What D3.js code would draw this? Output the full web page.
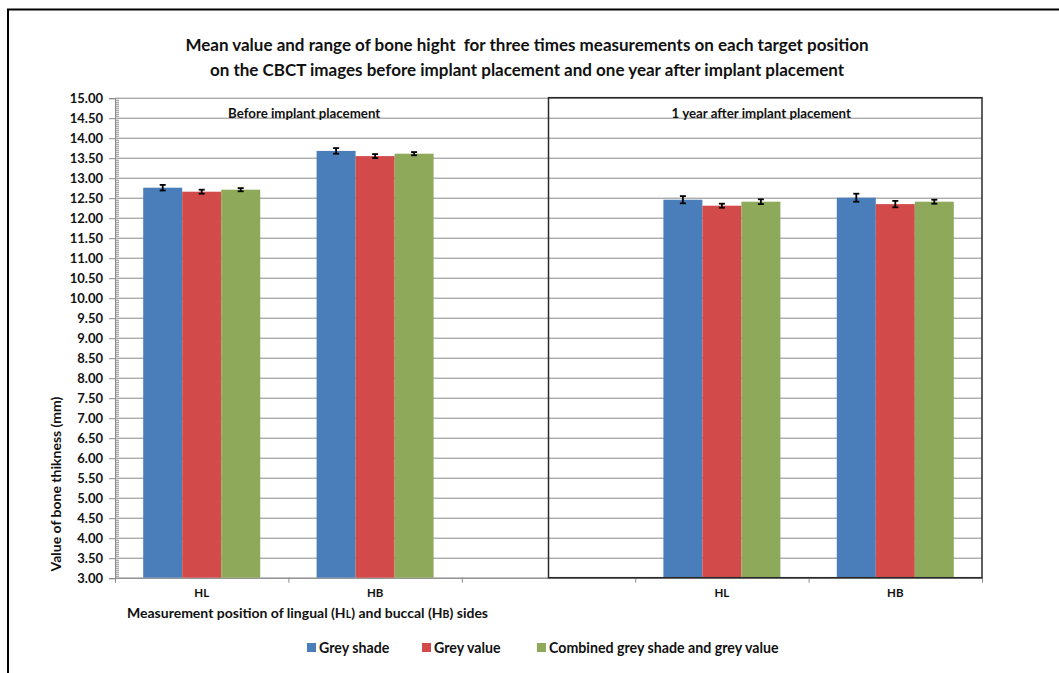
<!DOCTYPE html>
<html>
<head>
<meta charset="utf-8">
<script src="https://cdn.jsdelivr.net/npm/d3@7"></script>
<style>
  html, body { margin: 0; padding: 0; background: #fff; }
  svg { display: block; font-family: Lato, "Open Sans", sans-serif; font-weight: bold; }
</style>
</head>
<body>
<svg id="chart" width="1059" height="673"></svg>
<script>
// Categories along the x axis (third slot is the empty spacer between the two periods)
const categories = ["HL", "HB", "", "HL", "HB"];
const seriesNames = ["Grey shade", "Grey value", "Combined grey shade and grey value"];
const seriesColors = ["#4A7EBB", "#D24A4A", "#8FA95B"];

// Mean bone height (mm) per measurement method
const greyShade = [12.75, 13.67, null, 12.45, 12.50];
const greyValue = [12.65, 13.54, null, 12.30, 12.34];
const combined  = [12.70, 13.60, null, 12.40, 12.40];

// Half range of the three repeated measurements (mm)
const greyShadeRange = [0.07, 0.07, null, 0.09, 0.10];
const greyValueRange = [0.05, 0.05, null, 0.05, 0.08];
const combinedRange  = [0.04, 0.04, null, 0.06, 0.05];

const yTickValues = d3.range(3, 15.001, 0.5);
const panelLabels = ["Before implant placement", "1 year after implant placement"];
const titleLines = [
  "Mean value and range of bone hight  for three times measurements on each target position",
  "on the CBCT images before implant placement and one year after implant placement"
];

const values = [greyShade, greyValue, combined];
const ranges = [greyShadeRange, greyValueRange, combinedRange];

const svg = d3.select("#chart");
const plotLeft = 115, plotRight = 982, plotTop = 97.7, plotBottom = 577.7;
const gridColor = "#8a8a8a";
const textColor = "#111";

// Outer frame (top and left edges)
svg.append("path")
  .attr("d", "M8,673 L8,9.5 L1059,9.5")
  .attr("fill", "none").attr("stroke", "#000").attr("stroke-width", 2);

// Title
svg.append("g").selectAll("text").data(titleLines).join("text")
  .attr("x", 527).attr("y", (d, i) => 51 + i * 25)
  .attr("text-anchor", "middle")
  .attr("font-size", 17)
  .attr("fill", textColor)
  .style("white-space", "pre")
  .text(d => d);

const keys = categories.map((c, i) => "c" + i);
const x = d3.scaleBand().domain(keys).range([plotLeft, plotRight]).padding(0);
const xs = d3.scaleBand().domain(seriesNames).range([0, x.bandwidth()])
  .paddingInner(0).paddingOuter(0.723);
const y = d3.scaleLinear().domain([3, 15]).range([plotBottom, plotTop]);

// Horizontal gridlines
svg.append("g").selectAll("line").data(yTickValues).join("line")
  .attr("x1", plotLeft).attr("x2", plotRight)
  .attr("y1", d => y(d) + 0.5).attr("y2", d => y(d) + 0.5)
  .attr("stroke", gridColor).attr("stroke-width", 1);

// Y axis with major ticks and labels
const yAxis = d3.axisLeft(y).tickValues(yTickValues)
  .tickFormat(d3.format(".2f")).tickSize(6).tickPadding(6);
const gy = svg.append("g").attr("transform", `translate(${plotLeft},0.5)`).call(yAxis);
gy.select(".domain").attr("stroke", gridColor);
gy.selectAll(".tick line").attr("stroke", gridColor);
gy.selectAll(".tick text").attr("font-size", 13).attr("fill", textColor)
  .attr("font-family", "Lato, sans-serif").attr("font-weight", "bold");

// Minor ticks every 0.05 on the inside of the axis
const minor = d3.range(3, 15.0001, 0.05).filter(v => Math.abs(v * 2 - Math.round(v * 2)) > 1e-6);
svg.append("g").selectAll("line").data(minor).join("line")
  .attr("x1", plotLeft).attr("x2", plotLeft + 4)
  .attr("y1", d => y(d) + 0.5).attr("y2", d => y(d) + 0.5)
  .attr("stroke", gridColor).attr("stroke-width", 1);

// X axis
const xAxis = d3.axisBottom(x).tickSize(0).tickFormat((d, i) => categories[i]).tickPadding(11);
const gx = svg.append("g").attr("transform", `translate(0,${plotBottom})`).call(xAxis);
gx.select(".domain").attr("stroke", gridColor);
gx.selectAll(".tick text").attr("font-size", 11.5).attr("fill", textColor)
  .attr("font-family", "Lato, sans-serif").attr("font-weight", "bold");
// Tick marks at category boundaries
const bounds = keys.map(k => x(k)).concat([x(keys[keys.length - 1]) + x.bandwidth()]);
gx.selectAll(".bound").data(bounds).join("line").attr("class", "bound")
  .attr("x1", d => d + 0.5).attr("x2", d => d + 0.5)
  .attr("y1", 0).attr("y2", 5).attr("stroke", gridColor);

// Bars
const barsG = svg.append("g");
seriesNames.forEach((s, si) => {
  const rows = categories.map((c, i) => ({ key: keys[i], v: values[si][i], r: ranges[si][i] }))
    .filter(d => d.v != null);
  barsG.append("g").selectAll("rect").data(rows).join("rect")
    .attr("x", d => x(d.key) + xs(s))
    .attr("width", xs.bandwidth())
    .attr("y", d => y(d.v))
    .attr("height", d => y(3) - y(d.v))
    .attr("fill", seriesColors[si]);
});

// Right-hand panel frame around the second period
const panelX = x(keys[2]) + x.bandwidth() / 2;
svg.append("rect")
  .attr("x", panelX).attr("y", plotTop)
  .attr("width", plotRight - panelX).attr("height", plotBottom - plotTop)
  .attr("fill", "none").attr("stroke", "#2a2a2a").attr("stroke-width", 1.5);

// Error bars (range of three measurements)
const errG = svg.append("g").attr("stroke", "#000").attr("stroke-width", 1.8);
seriesNames.forEach((s, si) => {
  categories.forEach((c, i) => {
    const v = values[si][i];
    if (v == null) return;
    const r = ranges[si][i];
    const cx = x(keys[i]) + xs(s) + xs.bandwidth() / 2;
    const y1 = y(v + r), y2 = y(v - r);
    errG.append("line").attr("x1", cx).attr("x2", cx).attr("y1", y1).attr("y2", y2);
    errG.append("line").attr("x1", cx - 3).attr("x2", cx + 3).attr("y1", y1).attr("y2", y1);
    errG.append("line").attr("x1", cx - 3).attr("x2", cx + 3).attr("y1", y2).attr("y2", y2);
  });
});

// Period labels
svg.append("text").attr("x", 228).attr("y", 118)
  .attr("font-size", 13.3).attr("fill", textColor).text(panelLabels[0]);
svg.append("text").attr("x", (panelX + plotRight) / 2 - 4).attr("y", 118)
  .attr("text-anchor", "middle")
  .attr("font-size", 13.3).attr("fill", textColor).text(panelLabels[1]);

// Axis titles
svg.append("text")
  .attr("transform", "translate(61,484) rotate(-90)")
  .attr("text-anchor", "middle").attr("font-size", 14).attr("fill", textColor)
  .text("Value of bone thikness (mm)");

const xt = svg.append("text").attr("x", 127).attr("y", 618)
  .attr("font-size", 14).attr("fill", textColor);
xt.append("tspan").text("Measurement position of lingual (H");
xt.append("tspan").attr("font-size", 10.5).text("L");
xt.append("tspan").text(") and buccal (H");
xt.append("tspan").attr("font-size", 10.5).text("B");
xt.append("tspan").text(") sides");

// Legend
const legendX = [307, 422, 537];
const lg = svg.append("g").selectAll("g").data(seriesNames).join("g")
  .attr("transform", (d, i) => `translate(${legendX[i]},643)`);
lg.append("rect").attr("width", 9).attr("height", 9).attr("fill", (d, i) => seriesColors[i]);
lg.append("text").attr("x", 12).attr("y", 10).attr("font-size", 14.2)
  .attr("fill", textColor).text(d => d);
</script>
</body>
</html>
